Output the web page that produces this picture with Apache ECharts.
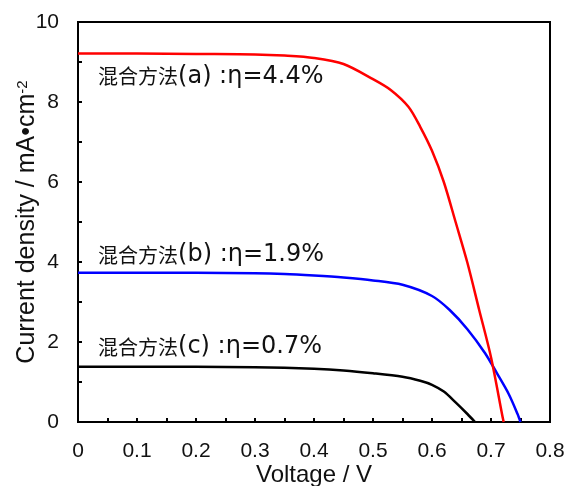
<!DOCTYPE html>
<html>
<head>
<meta charset="utf-8">
<script src="https://cdn.jsdelivr.net/npm/echarts@6/dist/echarts.min.js"></script>
<style>
  html, body { margin: 0; padding: 0; background: #fff; }
  #chart { width: 564px; height: 486px; }
</style>
</head>
<body>
<div id="chart"></div>
<script>
// J–V curves of three cells prepared by different mixing methods
const voltageA = [0, 0.1, 0.2, 0.3, 0.35, 0.4, 0.45, 0.5, 0.53, 0.56, 0.58, 0.6, 0.62, 0.64, 0.66, 0.68, 0.7, 0.72, 0.7215];
const currentA = [9.21, 9.21, 9.2, 9.19, 9.16, 9.1, 8.95, 8.57, 8.3, 7.88, 7.38, 6.78, 6.0, 5.0, 3.98, 2.8, 1.62, 0.1, 0];

const voltageB = [0, 0.1, 0.2, 0.3, 0.35, 0.4, 0.45, 0.5, 0.55, 0.6, 0.63, 0.66, 0.69, 0.71, 0.73, 0.745, 0.75];
const currentB = [3.73, 3.73, 3.73, 3.72, 3.7, 3.66, 3.61, 3.54, 3.43, 3.15, 2.8, 2.32, 1.72, 1.22, 0.7, 0.2, 0];

const voltageC = [0, 0.2, 0.3, 0.4, 0.45, 0.5, 0.55, 0.58, 0.6, 0.62, 0.64, 0.66, 0.673];
const currentC = [1.38, 1.38, 1.37, 1.33, 1.29, 1.22, 1.13, 1.03, 0.93, 0.76, 0.49, 0.2, 0];

const methodNames = ['混合方法', '混合方法', '混合方法'];
const efficiencyTexts = ['(a) :η=4.4%', '(b) :η=1.9%', '(c) :η=0.7%'];
const seriesColors = ['#ff0000', '#0000ff', '#000000'];
// where each curve's caption sits, in data units
const labelAnchors = [[0.034, 8.64], [0.034, 4.17], [0.034, 1.87]];

const xTicks = [0, 0.1, 0.2, 0.3, 0.4, 0.5, 0.6, 0.7, 0.8];
const yTicks = [0, 2, 4, 6, 8, 10];

const latinFont = '"Liberation Sans", Arial, sans-serif';
const cjkFont = '"Noto Sans CJK SC", "Noto Sans CJK JP", sans-serif';
const captionFont = '"DejaVu Sans", "Liberation Sans", sans-serif';
const textColor = '#111';

function pairs(xs, ys) { return xs.map((x, i) => [x, ys[i]]); }

const curves = [pairs(voltageA, currentA), pairs(voltageB, currentB), pairs(voltageC, currentC)];

const chart = echarts.init(document.getElementById('chart'), null, { renderer: 'canvas' });

chart.setOption({
  animation: false,
  backgroundColor: '#fff',
  grid: {
    left: 78, right: 14, top: 22, bottom: 64,
    outerBoundsMode: 'none',
    containLabel: false,
    show: true, borderColor: '#000', borderWidth: 2, backgroundColor: 'transparent'
  },
  xAxis: {
    type: 'value',
    min: xTicks[0], max: xTicks[xTicks.length - 1], interval: 0.1,
    name: 'Voltage / V', nameLocation: 'middle', nameGap: 41, nameMoveOverlap: false,
    nameTextStyle: { fontFamily: latinFont, fontSize: 24, color: textColor },
    axisLine: { show: true, lineStyle: { color: '#000', width: 2 } },
    axisTick: { show: true, inside: true, length: 4, lineStyle: { color: '#000', width: 2 } },
    minorTick: { show: true, splitNumber: 2, length: 4, lineStyle: { color: '#000', width: 2 } },
    splitLine: { show: false },
    axisLabel: {
      margin: 19, fontFamily: latinFont, fontSize: 21, color: textColor,
      formatter: v => (xTicks.some(t => Math.abs(t - v) < 1e-9) ? String(+v.toFixed(1)) : '')
    }
  },
  yAxis: {
    type: 'value',
    min: yTicks[0], max: yTicks[yTicks.length - 1], interval: 2,
    name: '{t|Current density / mA•cm}{s|-2}', nameLocation: 'middle', nameGap: 38, nameRotate: 90,
    nameMoveOverlap: false,
    nameTextStyle: {
      fontFamily: latinFont, fontSize: 25, color: textColor,
      rich: {
        t: { fontFamily: latinFont, fontSize: 25, color: textColor },
        s: { fontFamily: latinFont, fontSize: 15, color: textColor, verticalAlign: 'top', padding: [0, 0, 10, 0] }
      }
    },
    axisLine: { show: true, lineStyle: { color: '#000', width: 2 } },
    axisTick: { show: true, inside: true, length: 4, lineStyle: { color: '#000', width: 2 } },
    minorTick: { show: true, splitNumber: 2, length: 4, lineStyle: { color: '#000', width: 2 } },
    splitLine: { show: false },
    axisLabel: { margin: 19, fontFamily: latinFont, fontSize: 21, color: textColor }
  },
  series: curves.map((data, i) => ({
    type: 'line',
    name: methodNames[i] + efficiencyTexts[i],
    data: data,
    smooth: 0.3,
    symbol: 'none',
    lineStyle: { color: seriesColors[i], width: 2.5 },
    clip: false,
    z: 3 - i,
    markPoint: {
      symbol: 'circle', symbolSize: 0,
      data: [{ coord: labelAnchors[i] }],
      label: {
        show: true, position: 'right', distance: 0,
        formatter: '{c|' + methodNames[i] + '}{l|' + efficiencyTexts[i] + '}',
        rich: {
          c: { fontFamily: cjkFont, fontSize: 20, color: textColor },
          l: { fontFamily: captionFont, fontSize: 24, color: textColor }
        }
      }
    }
  }))
});
</script>
</body>
</html>
